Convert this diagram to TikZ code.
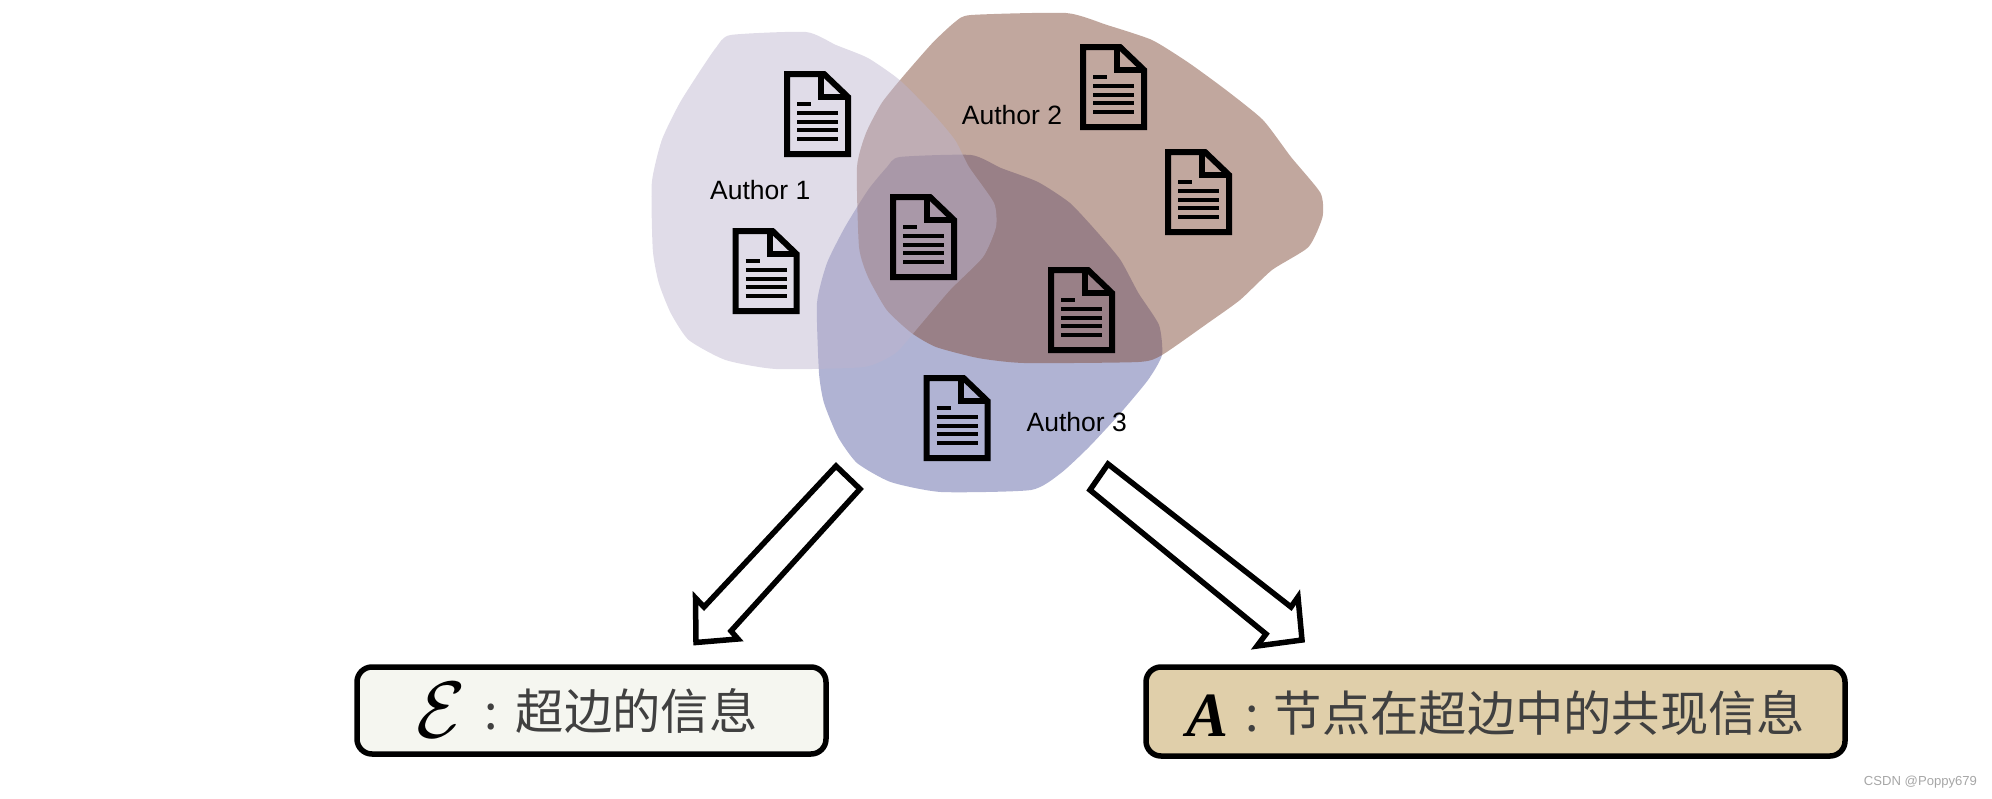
\documentclass[tikz,border=0pt]{standalone}
\usepackage{fontspec}
\setmainfont{Liberation Sans}
\newfontfamily\cjkfont{Noto Sans CJK SC}
\newfontfamily\symbfont{Liberation Serif}
\definecolor{authorone}{RGB}{189,181,206}
\definecolor{authortwo}{RGB}{131,79,61}
\definecolor{authorthree}{RGB}{176,179,211}
\definecolor{edgefill}{RGB}{245,246,240}
\definecolor{cofill}{RGB}{224,207,170}
\definecolor{cjkgray}{RGB}{64,64,64}
\tikzset{
  authorlabel/.style={font=\fontsize{26.5}{26.5}\selectfont, inner sep=0pt},
  infobox/.style={draw=black, line width=5.5pt, rounded corners=15pt, inner sep=0pt, align=center, font=\fontsize{48.3}{48.3}\selectfont\cjkfont, text=cjkgray},
  blockarrow/.style={draw=black, fill=white, line width=5.5pt, line join=miter},
  docicon/.pic={
    \draw[line width=6pt, line join=miter] (3,3) -- (40,3) -- (64,26) -- (64,83) -- (3,83) -- cycle;
    \draw[line width=6pt, line join=miter] (37.4,3) -- (37.4,25.7) -- (64,25.7);
    \draw[line width=4pt] (13,33.3) -- (27.4,33.3);
    \foreach \liney in {42,50.7,59,67.7}
      \draw[line width=4pt] (13,\liney) -- (54,\liney);
  }
}
\begin{document}
\begin{tikzpicture}[x=1pt, y=-1pt]
  \useasboundingbox (0,0) rectangle (1992,798);

  \fill[authorthree] plot[smooth cycle, tension=0.35] coordinates {(899.6,157) (971,155) (1001,168) (1038,182) (1070,203) (1098,233) (1120.5,260) (1138.4,293) (1159,325) (1162,355) (1148,380) (1120.5,413) (1089,447) (1061,473) (1031,490) (941,492) (890.6,482) (857,463) (838,437) (824,403) (819,373) (817,303) (827,263) (845,227) (868,190) (887,167)};
  \fill[authortwo, opacity=0.5] plot[smooth cycle, tension=0.35] coordinates {(971,15) (1066,13) (1107,25) (1152,40) (1189,63) (1226,90) (1263,120) (1291,157) (1320.5,193) (1322.5,217) (1308.5,247) (1272,270) (1240,300) (1208,323) (1162,355) (1138.4,362) (1024,363) (978,358) (936,347) (911.5,333) (886.7,310) (868,277) (859,247) (857,167) (866,133) (881.7,103) (902.6,77) (932.4,43) (955,22)};
  \fill[authorone, opacity=0.47] plot[smooth cycle, tension=0.35] coordinates {(730.5,35) (806,32) (836,45) (868,58) (899.6,80) (932.4,113) (955,140) (969,167) (994,203) (996,227) (983,257) (950,290) (918.5,327) (895.6,353) (864,367) (776,369) (725.5,360) (688.7,340) (670.7,313) (658.8,283) (652.8,250) (651.8,183) (661.8,140) (679.7,103) (702.6,67) (716.5,47)};

  \pic at (784,71) {docicon};
  \pic at (1080,44) {docicon};
  \pic at (1165,149) {docicon};
  \pic at (890,194) {docicon};
  \pic at (1048,267) {docicon};
  \pic at (732.5,228) {docicon};
  \pic at (923.5,375) {docicon};

  \node[authorlabel] (author1) at (760.3,190) {Author 1};
  \node[authorlabel] (author2) at (1012,115) {Author 2};
  \node[authorlabel] (author3) at (1076.7,422) {Author 3};

  \draw[blockarrow] (836,466) -- (860,489) -- (731,631) -- (738,639) -- (696,642.5) -- (695.5,598) -- (704,607) -- cycle;
  \draw[blockarrow] (1108,464) -- (1090,490) -- (1266,634) -- (1257,646) -- (1302,640) -- (1298,597) -- (1291,607) -- cycle;

  \node[infobox, fill=edgefill, minimum width=469pt, text height=62.5pt, text depth=24.5pt] (edgeinfo) at (591.5,710.5)
    {\raisebox{-7.5pt}{\textcolor{black}{\scalebox{8}{\fontsize{10}{10}\selectfont$\mathcal{E}$}}}\kern 19pt:\kern 18pt 超边的信息\kern 9.5pt};
  \node[infobox, fill=cofill, minimum width=699pt, text height=64.5pt, text depth=24.5pt] (coinfo) at (1495.5,711.5)
    {\raisebox{-4.5pt}{\textcolor{black}{\fontsize{63}{63}\selectfont\symbfont\bfseries\itshape A}}\kern 16.5pt:\kern 15pt 节点在超边中的共现信息\kern -1pt};

  \node[font=\fontsize{13.1}{13.1}\selectfont, text=black!35, inner sep=0pt] (mark) at (1920.5,782) {CSDN @Poppy679};
\end{tikzpicture}
\end{document}
